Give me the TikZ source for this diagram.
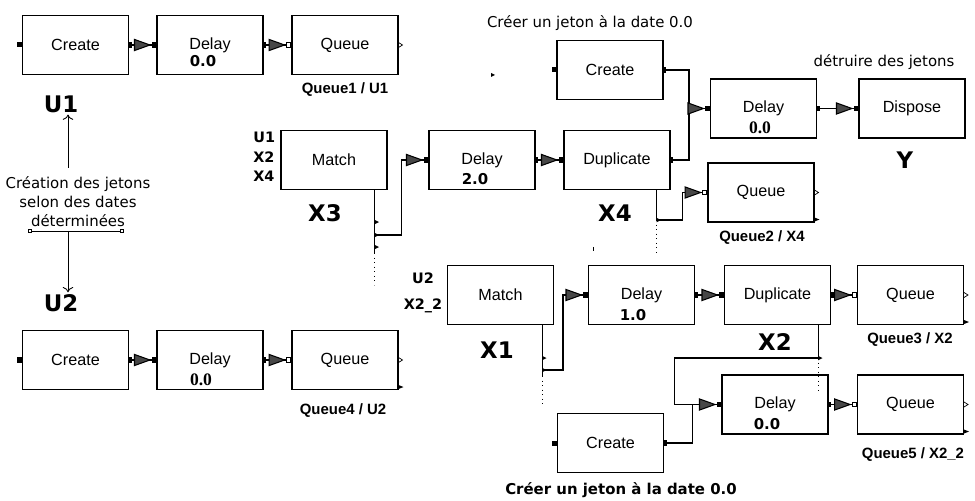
\documentclass[tikz,border=0pt]{standalone}
\usepackage{fontspec}
\setmainfont{Liberation Sans}
\newfontfamily\dejavu{DejaVu Sans}
\newfontfamily\serifb{Liberation Serif}
\usetikzlibrary{arrows.meta,positioning}

\begin{document}
\begin{tikzpicture}[
    every node/.style={font=\fontsize{9.2}{11}\selectfont},
    block/.style={draw, line width=0.6pt, minimum width=2.12cm, minimum height=1.18cm, inner sep=0pt},
    bigname/.style={font=\dejavu\bfseries\fontsize{13}{15}\selectfont, inner sep=1pt},
    qname/.style={font=\bfseries\fontsize{8.5}{10}\selectfont, inner sep=0pt},
    inname/.style={font=\dejavu\bfseries\fontsize{8.2}{11}\selectfont, inner sep=0pt},
    delayval/.style={font=\dejavu\bfseries\fontsize{8.5}{10}\selectfont, inner sep=0pt},
    delayser/.style={font=\serifb\bfseries\fontsize{10}{12}\selectfont, inner sep=0pt},
    note/.style={font=\dejavu\fontsize{8.5}{10.8}\selectfont, align=center, inner sep=0pt},
    wire/.style={line width=0.6pt},
    link/.style={wire, {Square[length=1.6pt,width=3pt]}-{Triangle[length=10pt,width=7pt,fill=black!72]Square[length=2.8pt,width=3.4pt]}},
    linkq/.style={wire, {Square[length=1.6pt,width=3pt]}-{Triangle[length=10pt,width=7pt,fill=black!72]Square[length=3pt,width=3pt,fill=white]}},
    buslink/.style={wire, -{Triangle[length=10pt,width=7pt,fill=black!72]Square[length=2.8pt,width=3.4pt]}},
    buslinkq/.style={wire, -{Triangle[length=10pt,width=7pt,fill=black!72]Square[length=3pt,width=3pt,fill=white]}},
    feed/.style={wire, {Square[length=1.6pt,width=3pt]}-},
    thinarr/.style={line width=0.5pt, -{To[length=3pt,width=6pt]}}
]
    \useasboundingbox (0,0) rectangle (19.5,-10.02);

    % blocks
    \node[block] (cr1) at (1.51,-0.90) {Create};
    \node[block] (dl1) at (4.20,-0.90) {Delay};
    \node[block] (qu1) at (6.90,-0.90) {Queue};
    \node[block] (cr4) at (1.51,-7.20) {Create};
    \node[block] (dl4) at (4.20,-7.20) {Delay};
    \node[block] (qu4) at (6.90,-7.20) {Queue};
    \node[block] (ma3) at (6.68,-3.20) {Match};
    \node[block] (dl3) at (9.64,-3.20) {Delay};
    \node[block] (du4) at (12.34,-3.20) {Duplicate};
    \node[block] (cr2) at (12.20,-1.40) {Create};
    \node[block] (dlY) at (15.27,-2.17) {Delay};
    \node[block] (dis) at (18.24,-2.17) {Dispose};
    \node[block] (qu2) at (15.22,-3.85) {Queue};
    \node[block] (ma1) at (10.01,-5.90) {Match};
    \node[block] (dl5) at (12.83,-5.90) {Delay};
    \node[block] (du2) at (15.55,-5.90) {Duplicate};
    \node[block] (qu3) at (18.21,-5.90) {Queue};
    \node[block] (dl6) at (15.50,-8.09) {Delay};
    \node[block] (qu5) at (18.21,-8.09) {Queue};
    \node[block] (cr3) at (12.21,-8.86) {Create};

    % delay values
    \node[delayval] (v1) at ([shift={(-0.14,-0.32)}]dl1.center) {0.0};
    \node[delayser] (v4) at ([shift={(-0.18,-0.40)}]dl4.center) {0.0};
    \node[delayval] (v3) at ([shift={(-0.14,-0.38)}]dl3.center) {2.0};
    \node[delayser] (vy) at ([shift={(-0.07,-0.39)}]dlY.center) {0.0};
    \node[delayval] (v5) at ([shift={(-0.17,-0.40)}]dl5.center) {1.0};
    \node[delayval] (v6) at ([shift={(-0.16,-0.39)}]dl6.center) {0.0};

    % names
    \node[bigname] (u1) at (1.22,-2.08) {U1};
    \node[bigname] (u2) at (1.22,-6.06) {U2};
    \node[bigname] (x3) at (6.50,-4.26) {X3};
    \node[bigname] (x4) at (12.30,-4.26) {X4};
    \node[bigname] (y) at (18.10,-3.20) {Y};
    \node[bigname] (x1) at (9.94,-7.00) {X1};
    \node[bigname] (x2) at (15.50,-6.84) {X2};

    \node[qname] (q1) at (6.90,-1.80) {Queue1 / U1};
    \node[qname] (q4) at (6.86,-8.22) {Queue4 / U2};
    \node[qname] (q2) at (15.24,-4.76) {Queue2 / X4};
    \node[qname] (q3) at (18.20,-6.80) {Queue3 / X2};
    \node[qname] (q5) at (18.26,-9.10) {Queue5 / X2\_2};

    \node[inname, anchor=west, align=left] (in3) at (5.06,-3.14) {U1\\X2\\X4};
    \node[inname, align=center] (in1) at (8.46,-5.86) {U2\\[4pt]X2\_2};

    % notes
    \node[note] (cre) at (1.56,-4.04) {Création des jetons\\selon des dates\\déterminées};
    \node[note] (ctop) at (11.80,-0.46) {Créer un jeton à la date 0.0};
    \node[note] (det) at (17.68,-1.24) {détruire des jetons};
    \node[note, font=\dejavu\bfseries\fontsize{8.5}{10}\selectfont] (cbot) at (12.42,-9.80) {Créer un jeton à la date 0.0};

    \coordinate (ul) at (0.56,-4.62);
    \coordinate (ur) at (2.48,-4.62);
    \coordinate (ud) at (1.36,-4.62);
    \draw[line width=0.5pt, {Square[open,length=2pt,width=2.5pt]}-{Square[open,length=2pt,width=2.5pt]}] (ul) -- (ur);
    \draw[thinarr] ([yshift=0.18cm]cre.north -| ud) -- (ud |- u1.south);
    \draw[thinarr] (ud) -- (ud |- u2.north);

    % straight links
    \draw[link] (cr1) -- (dl1);
    \draw[linkq] (dl1) -- (qu1);
    \draw[link] (cr4) -- (dl4);
    \draw[linkq] (dl4) -- (qu4);
    \draw[link] (dl3) -- (du4);
    \draw[link] (dlY) -- (dis);
    \draw[link] (dl5) -- (du2);
    \draw[linkq] (du2) -- (qu3);
    \draw[linkq] (dl6) -- (qu5);

    % merges into delay Y
    \draw[feed] (cr2.east) -| ([xshift=-0.42cm]dlY.west);
    \draw[link] (du4.east) -| ([xshift=-0.42cm]dlY.west) -- (dlY.west);

    % bus of match X3
    \coordinate (b3) at ([xshift=-0.26cm]ma3.south east);
    \coordinate (b3e) at ([yshift=-1.26cm]b3);
    \coordinate (b3d) at ([yshift=-0.64cm]b3e);
    \coordinate (b3c) at ([yshift=-0.90cm]b3);
    \draw[wire] (b3) -- (b3e);
    \draw[wire, dotted] (b3e) -- (b3d);
    \foreach \d in {0.64,0.90,1.14}
        \fill ([yshift=-\d cm]b3) ++(0,0.045) -- ++(0.09,-0.045) -- ++(-0.09,-0.045) -- cycle;
    \draw[buslink] (b3c) -| ([xshift=-0.54cm]dl3.west) -- (dl3.west);

    % bus of duplicate X4
    \coordinate (b4) at ([xshift=-0.28cm]du4.south east);
    \coordinate (b4e) at ([yshift=-0.60cm]b4);
    \coordinate (b4d) at ([yshift=-0.68cm]b4e);
    \draw[wire] (b4) -- (b4e);
    \draw[wire, dotted] (b4e) -- (b4d);
    \fill (b4e) ++(0,0.045) -- ++(0.09,-0.045) -- ++(-0.09,-0.045) -- cycle;
    \draw[buslinkq] (b4e) -| ([xshift=-0.50cm]qu2.west) -- (qu2.west);

    % bus of match X1
    \coordinate (b1) at ([xshift=-0.24cm]ma1.south east);
    \coordinate (b1e) at ([yshift=-1.02cm]b1);
    \coordinate (b1d) at ([yshift=-0.56cm]b1e);
    \coordinate (b1c) at ([yshift=-0.90cm]b1);
    \draw[wire] (b1) -- (b1e);
    \draw[wire, dotted] (b1e) -- (b1d);
    \foreach \d in {0.66,0.90}
        \fill ([yshift=-\d cm]b1) ++(0,0.045) -- ++(0.09,-0.045) -- ++(-0.09,-0.045) -- cycle;
    \draw[buslink] (b1c) -| ([xshift=-0.50cm]dl5.west) -- (dl5.west);

    % bus of duplicate X2, loop back into the last delay
    \coordinate (b2) at ([xshift=-0.26cm]du2.south east);
    \coordinate (b2e) at ([yshift=-0.66cm]b2);
    \coordinate (b2d) at ([yshift=-0.66cm]b2e);
    \coordinate (lp) at ([xshift=-2.88cm]b2e);
    \draw[wire] (b2) -- (b2e);
    \draw[wire, dotted] (b2e) -- (b2d);
    \fill (b2e) ++(0,0.045) -- ++(0.09,-0.045) -- ++(-0.09,-0.045) -- cycle;
    \draw[buslink] (b2e) -- (lp) -- (lp |- dl6.west) -- (dl6.west);
    \draw[feed] (cr3.east) -| ([xshift=-0.58cm]dl6.west);

    % ports
    \foreach \c in {cr1,cr2,cr3,cr4}
        \fill ([shift={(-0.09,-0.05)}]\c.west) rectangle ([shift={(0,0.05)}]\c.west);
    \foreach \q in {qu1,qu2,qu3,qu4,qu5}
        \draw[line width=0.4pt] ([yshift=0.05cm]\q.east) -- ++(0.08,-0.05) -- ++(-0.08,-0.05);
    \foreach \q in {qu2,qu3,qu4,qu5}
        \fill ([yshift=0.06cm]\q.south east) ++(0,0.04) -- ++(0.1,-0.04) -- ++(-0.1,-0.04) -- cycle;

    % stray marks
    \fill (9.82,-1.46) -- (9.90,-1.50) -- (9.82,-1.54) -- cycle;
    \draw[line width=0.5pt] (11.86,-4.94) -- (11.86,-5.02);
\end{tikzpicture}
\end{document}
